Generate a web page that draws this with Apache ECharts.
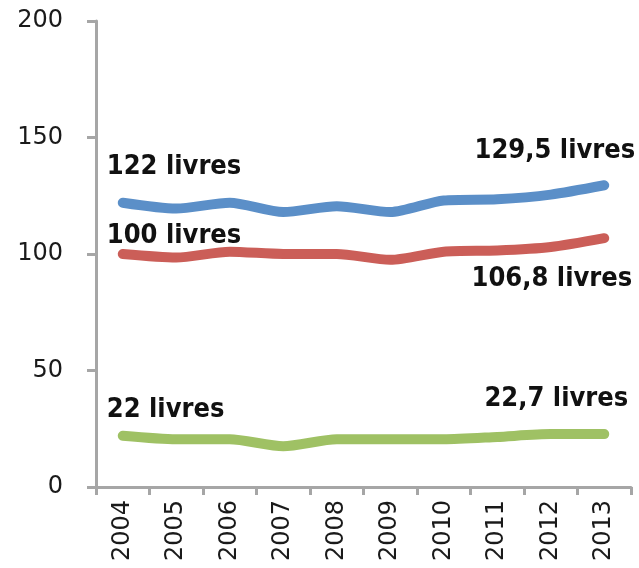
<!DOCTYPE html>
<html>
<head>
<meta charset="utf-8">
<script src="https://cdn.jsdelivr.net/npm/echarts@6/dist/echarts.min.js"></script>
<style>
  html, body { margin: 0; padding: 0; background: #fff; }
  #chart { width: 639px; height: 568px; }
</style>
</head>
<body>
<div id="chart"></div>
<script>
// données (lecture du graphique)
var years = ['2004', '2005', '2006', '2007', '2008', '2009', '2010', '2011', '2012', '2013'];
var blueValues = [122, 119.5, 122, 118, 120.5, 118, 123, 123.5, 125.5, 129.5];
var redValues = [100, 98.5, 101, 100, 100, 97.5, 101, 101.5, 103, 106.8];
var greenValues = [22, 20.5, 20.5, 17.5, 20.5, 20.5, 20.5, 21.5, 22.7, 22.7];
var blueLabels = ['122 livres', '129,5 livres'];
var redLabels = ['100 livres', '106,8 livres'];
var greenLabels = ['22 livres', '22,7 livres'];
var yTicks = [0, 50, 100, 150, 200];

var labelFont = {
    fontFamily: 'DejaVu Sans Condensed',
    fontWeight: 'bold',
    fontSize: 27,
    color: '#111'
};

// met un libellé sur le premier et le dernier point
function withLabels(values, texts, firstPos, lastPos){
    return values.map(function(v, i){
        if (i === 0 || i === values.length - 1) {
            var first = (i === 0);
            return {
                value: v,
                label: Object.assign({
                    show: true,
                    formatter: first ? texts[0] : texts[1],
                    position: first ? firstPos : lastPos,
                    align: first ? 'left' : 'right',
                    verticalAlign: 'middle'
                }, labelFont)
            };
        }
        return v;
    });
}

function lineSeries(name, color, data){
    return {
        name: name,
        type: 'line',
        smooth: 0.25,
        symbol: 'circle',
        symbolSize: 2,
        showSymbol: true,
        itemStyle: { color: color },
        lineStyle: { color: color, width: 10, cap: 'round', join: 'round' },
        emphasis: { disabled: true },
        data: data
    };
}

var axisColor = '#a6a6a6';
var chart = echarts.init(document.getElementById('chart'));
chart.setOption({
    animation: false,
    grid: { left: 96, right: 8, top: 21, bottom: 81 },
    xAxis: {
        type: 'category',
        data: years,
        boundaryGap: true,
        axisLine: { lineStyle: { color: axisColor, width: 3 } },
        axisTick: { show: true, length: 8, alignWithLabel: false, lineStyle: { color: axisColor, width: 3 } },
        axisLabel: {
            rotate: 90,
            margin: 13,
            fontFamily: 'DejaVu Sans',
            fontSize: 24,
            color: '#1a1a1a'
        }
    },
    yAxis: {
        type: 'value',
        min: yTicks[0],
        max: yTicks[yTicks.length - 1],
        interval: 50,
        splitLine: { show: false },
        axisLine: { show: true, lineStyle: { color: axisColor, width: 3 } },
        axisTick: { show: true, length: 9, lineStyle: { color: axisColor, width: 3 } },
        axisLabel: {
            margin: 33,
            fontFamily: 'DejaVu Sans',
            fontSize: 24,
            color: '#1a1a1a'
        }
    },
    series: [
        lineSeries('bleu', '#5b8fc8', withLabels(blueValues, blueLabels, [-15, -35], [32, -33])),
        lineSeries('rouge', '#cb5e58', withLabels(redValues, redLabels, [-15, -17], [29, 42])),
        lineSeries('vert', '#9fc164', withLabels(greenValues, greenLabels, [-15, -25], [25, -34]))
    ]
});
</script>
</body>
</html>
